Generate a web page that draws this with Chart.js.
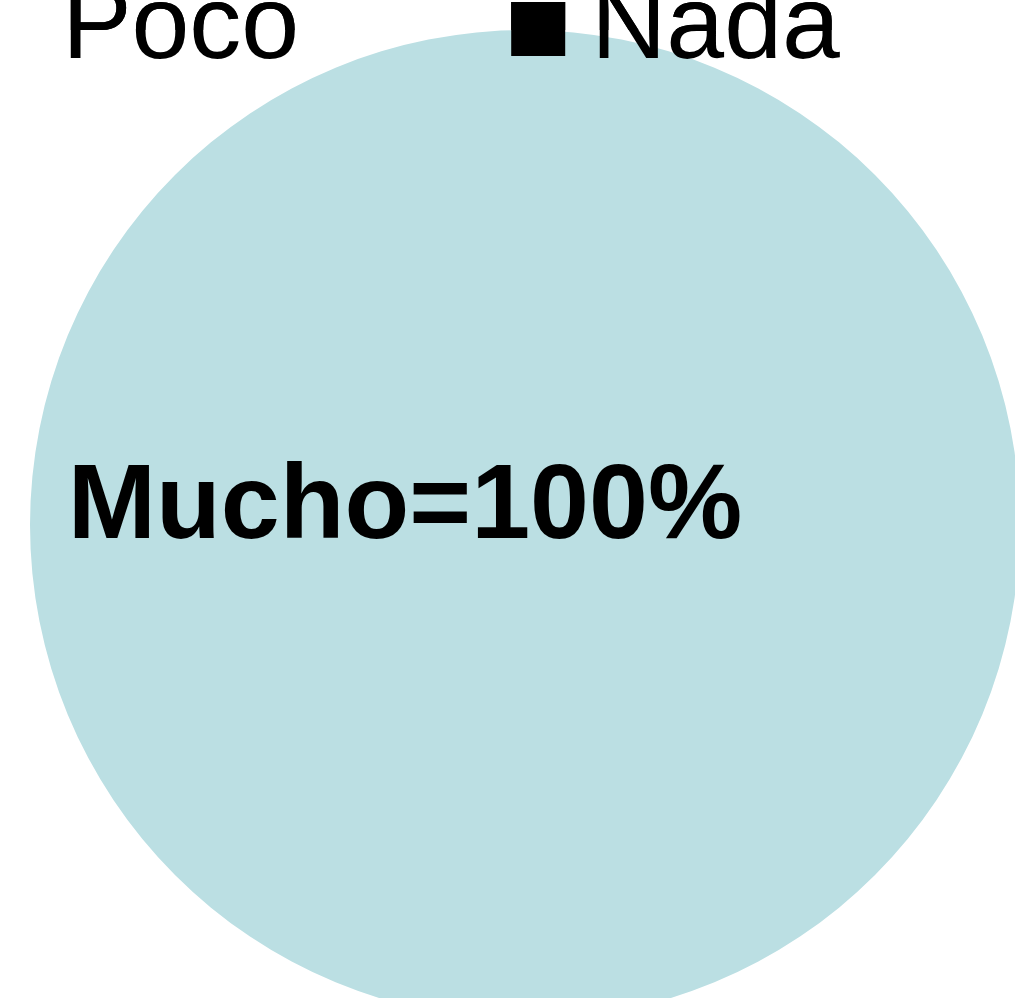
<!DOCTYPE html>
<html>
<head>
<meta charset="utf-8">
<script src="https://cdn.jsdelivr.net/npm/chart.js@4/dist/chart.umd.min.js"></script>
<style>
  html, body { margin: 0; padding: 0; background: #fff; overflow: hidden; }
  body { width: 1015px; height: 998px; position: relative; }
  /* the reference is a crop of a bigger chart, so the canvas hangs off the page */
  #pieChart { position: absolute; left: -834px; top: -261px; }
</style>
</head>
<body>
<canvas id="pieChart" width="2718" height="1281"></canvas>
<script>
// ==============================
// DATA
// ==============================
const categories = ["Mucho", "Poco", "Nada"];
const percentages = [100, 0, 0];
const sliceColors = ["#BBDFE3", "#FFFFFF", "#000000"];

// ==============================
// PLUGINS
// ==============================
// slice label "Mucho=100%"
const sliceLabel = {
  id: "sliceLabel",
  afterDatasetsDraw(chart) {
    const meta = chart.getDatasetMeta(0);
    const ctx = chart.ctx;
    ctx.save();
    ctx.font = "bold 106px 'Liberation Sans', Arial, sans-serif";
    ctx.fillStyle = "#000";
    ctx.textAlign = "center";
    ctx.textBaseline = "alphabetic";
    meta.data.forEach((arc, i) => {
      if (!percentages[i]) return;
      const text = categories[i] + "=" + percentages[i] + "%";
      ctx.fillText(text, arc.x - 120, arc.y + 13);
    });
    ctx.restore();
  }
};

// legend overlaps the pie in the reference, draw it again on top
// (legend box is squeezed by maxHeight, so open up its clip for this pass)
const legendOnTop = {
  id: "legendOnTop",
  afterDatasetsDraw(chart) {
    const legend = chart.legend;
    const oldBottom = legend.bottom;
    legend.bottom = chart.height;
    legend.draw();
    legend.bottom = oldBottom;
  }
};

// ==============================
// CHART
// ==============================
const ctx = document.getElementById("pieChart").getContext("2d");

new Chart(ctx, {
  type: "pie",
  data: {
    labels: categories,
    datasets: [
      {
        data: percentages,
        backgroundColor: sliceColors,
        borderWidth: 0,
        hoverBorderWidth: 0,
        hoverOffset: 0,
        offset: 0,
      },
    ],
  },
  options: {
    responsive: false,
    animation: false,
    layout: { padding: 0 },
    plugins: {
      tooltip: { enabled: false },
      legend: {
        display: true,
        position: "top",
        align: "start",
        maxHeight: 291,
        labels: {
          usePointStyle: true,
          pointStyle: "rect",
          boxWidth: 2,
          boxHeight: 54,
          padding: 238,
          color: "#000",
          font: { family: "'Liberation Sans', Arial, sans-serif", size: 104 },
        },
      },
    },
  },
  plugins: [sliceLabel, legendOnTop],
});
</script>
</body>
</html>
